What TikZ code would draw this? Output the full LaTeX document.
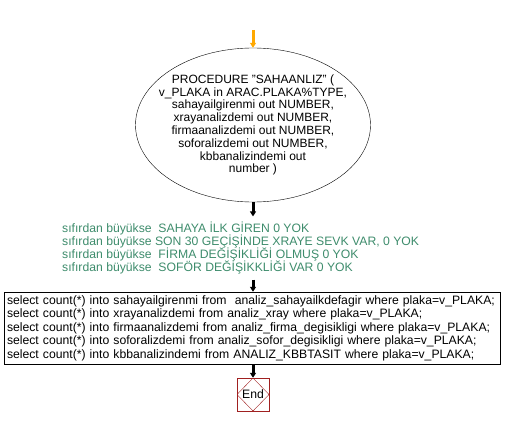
\documentclass[tikz,border=0pt]{standalone}
\usepackage{fontspec}
\setmainfont{Liberation Sans}
\usetikzlibrary{calc}
\usetikzlibrary{shapes}
\usetikzlibrary{arrows.meta}

\definecolor{startor}{RGB}{255,168,0}
\definecolor{notegreen}{RGB}{62,140,108}
\definecolor{endred}{RGB}{160,32,32}

\tikzset{
  flow/.style={line width=3pt,-{Triangle[length=5pt,width=6pt]}},
  procbox/.style={draw,ellipse,thin,align=center,inner xsep=-15pt,inner ysep=0pt,
    minimum width=235pt,minimum height=154pt,font=\fontsize{12}{12.8}\selectfont},
  notebox/.style={align=left,text=notegreen,inner xsep=2pt,inner ysep=5pt,
    font=\fontsize{12.2}{13.2}\selectfont},
  stmtbox/.style={draw,thin,align=left,text width=490pt,inner xsep=3pt,
    minimum height=72pt,font=\fontsize{12.2}{13.5}\selectfont},
  endbox/.style={draw=endred,thin,minimum width=32pt,minimum height=33pt,inner sep=0pt,
    font=\fontsize{12.2}{13}\selectfont,
    path picture={\draw[endred] (path picture bounding box.north) -- (path picture bounding box.east)
      -- (path picture bounding box.south) -- (path picture bounding box.west) -- cycle;}}
}

\begin{document}
\begin{tikzpicture}[x=1pt,y=-1pt]
        \useasboundingbox (0,0) rectangle (505,425);
        \coordinate (start) at (253,30);

        \node[procbox] (proc) at (253,125) {PROCEDURE "SAHAANLIZ" (\\v\_PLAKA in ARAC.PLAKA\%TYPE,\\sahayailgirenmi out NUMBER,\\xrayanalizdemi out NUMBER,\\firmaanalizdemi out NUMBER,\\soforalizdemi out NUMBER,\\kbbanalizindemi out\\number )};
        \node[notebox,anchor=west] (note) at (60,248) {sıfırdan büyükse\ \ SAHAYA İLK GİREN 0 YOK\\sıfırdan büyükse SON 30 GEÇİŞİNDE XRAYE SEVK VAR, 0 YOK\\sıfırdan büyükse\ \ FİRMA DEĞİŞİKLİĞİ OLMUŞ 0 YOK\\sıfırdan büyükse\ \ SOFÖR DEĞİŞİKKLİĞİ VAR 0 YOK};
        \node[stmtbox] (stmts) at (252,328) {select count(*) into sahayailgirenmi from\ \ analiz\_sahayailkdefagir where plaka=v\_PLAKA;\\select count(*) into xrayanalizdemi from analiz\_xray where plaka=v\_PLAKA;\\select count(*) into firmaanalizdemi from analiz\_firma\_degisikligi where plaka=v\_PLAKA;\\select count(*) into soforalizdemi from analiz\_sofor\_degisikligi where plaka=v\_PLAKA;\\select count(*) into kbbanalizindemi from ANALIZ\_KBBTASIT where plaka=v\_PLAKA;};
        \node[endbox] (end) at (253,394.5) {End};

        % \draw (0,0) rectangle (505,425);
        \draw[flow,startor] (start) -- (proc);
        \draw[flow] (proc) -- (proc |- note.north);
        \draw[flow] (proc |- note.south) -- (proc |- stmts.north);
        \draw[flow] (stmts.south -| end) -- (end);
\end{tikzpicture}
\end{document}
